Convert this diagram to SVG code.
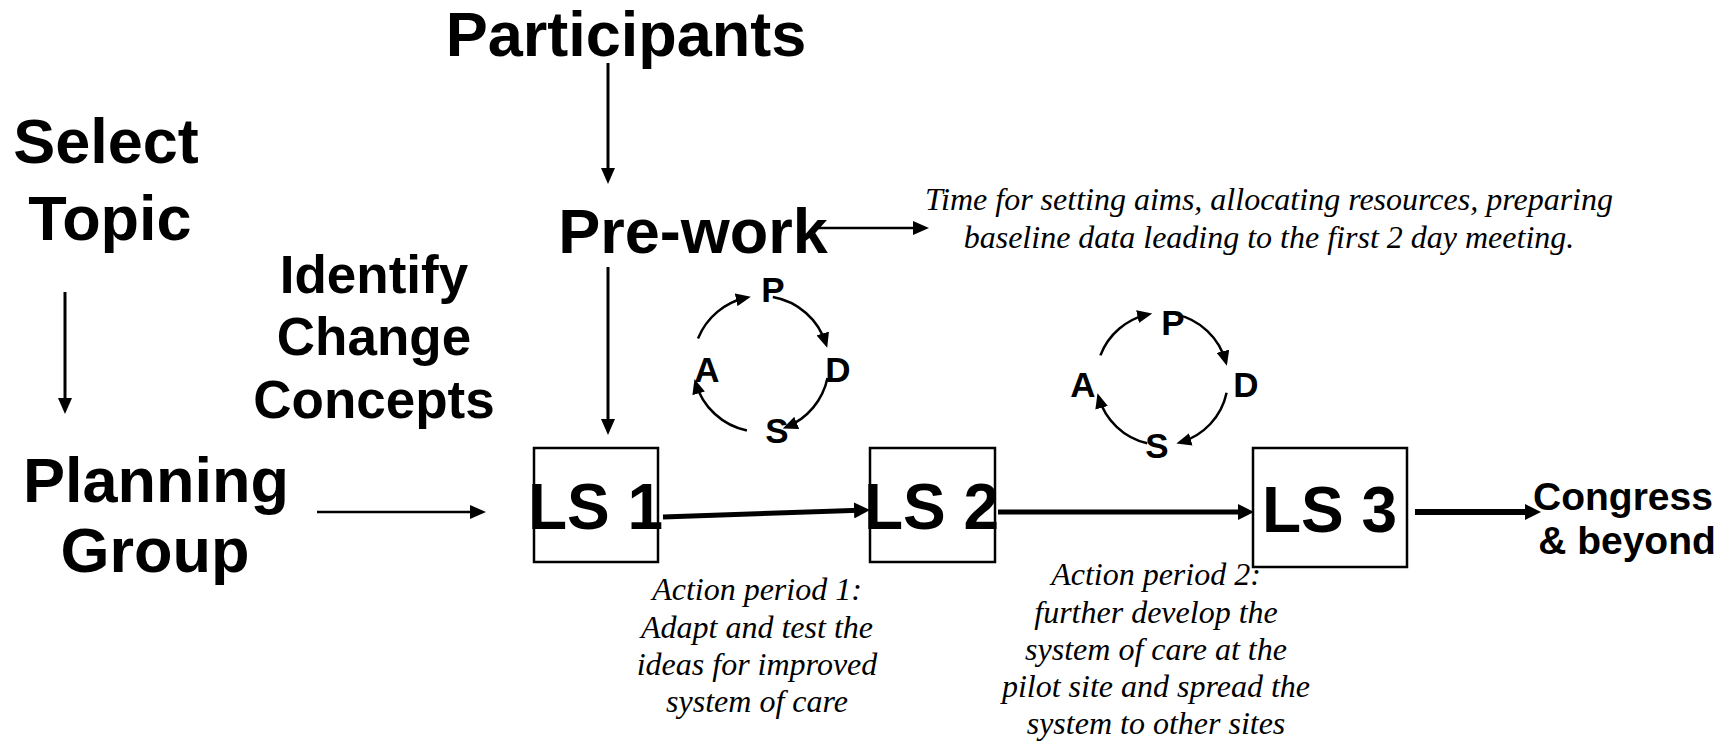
<svg xmlns="http://www.w3.org/2000/svg" width="1733" height="743" viewBox="0 0 1733 743">
<style>
.b{font-family:"Liberation Sans",Arial,sans-serif;font-weight:bold;fill:#000}
.big{font-size:63px}
.mid{font-size:53px}
.ls{font-size:64px}
.cg{font-size:39px}
.pd{font-size:35px;text-anchor:middle}
.it{font-family:"Liberation Serif","Times New Roman",serif;font-style:italic;font-size:32px;fill:#000;text-anchor:middle}
.c{text-anchor:middle}
.box{fill:none;stroke:#000;stroke-width:2.5}
.ln{fill:none;stroke:#000}
</style>
<defs>
<marker id="ah" markerUnits="userSpaceOnUse" markerWidth="16" markerHeight="14" refX="5" refY="7" orient="auto"><path d="M0,0 L16,7 L0,14 z" fill="#000"/></marker>
<marker id="ahb" markerUnits="userSpaceOnUse" markerWidth="16" markerHeight="16" refX="5" refY="8" orient="auto"><path d="M0,0 L16,8 L0,16 z" fill="#000"/></marker>
<marker id="ahp" markerUnits="userSpaceOnUse" markerWidth="15" markerHeight="13" refX="11" refY="6.5" orient="auto"><path d="M0,0 L15,6.5 L0,13 z" fill="#000"/></marker>
</defs>
<rect width="1733" height="743" fill="#fff"/>

<g id="participants"><text class="b big c" x="626" y="56">Participants</text></g>
<g id="select-topic"><text class="b big c" x="106" y="163">Select</text><text class="b big c" x="110" y="240">Topic</text></g>
<g id="planning-group"><text class="b big c" x="156" y="502">Planning</text><text class="b big c" x="155" y="572">Group</text></g>
<g id="identify"><text class="b mid c" x="374" y="293">Identify</text><text class="b mid c" x="374" y="355">Change</text><text class="b mid c" x="374" y="418">Concepts</text></g>
<g id="prework"><text class="b big c" x="693" y="253">Pre-work</text></g>
<g id="prework-note"><text class="it" x="1269" y="210">Time for setting aims, allocating resources, preparing</text><text class="it" x="1269" y="248">baseline data leading to the first 2 day meeting.</text></g>

<g id="ls1"><rect class="box" x="534" y="448" width="124" height="114"/><text class="b ls" x="528" y="529">LS 1</text></g>
<g id="ls2"><rect class="box" x="870" y="448" width="125" height="114"/><text class="b ls" x="864" y="529">LS 2</text></g>
<g id="ls3"><rect class="box" x="1253" y="448" width="154" height="119"/><text class="b ls" x="1262" y="532">LS 3</text></g>
<g id="congress"><text class="b cg c" x="1623" y="510">Congress</text><text class="b cg c" x="1627" y="554">&amp; beyond</text></g>

<g id="action1"><text class="it" x="757" y="600">Action period 1:</text><text class="it" x="757" y="638">Adapt and test the</text><text class="it" x="757" y="675">ideas for improved</text><text class="it" x="757" y="712">system of care</text></g>
<g id="action2"><text class="it" x="1156" y="585">Action period 2:</text><text class="it" x="1156" y="623">further develop the</text><text class="it" x="1156" y="660">system of care at the</text><text class="it" x="1156" y="697">pilot site and spread the</text><text class="it" x="1156" y="734">system to other sites</text></g>

<g id="pdsa1">
<text class="b pd" x="773" y="302">P</text><text class="b pd" x="838" y="382">D</text><text class="b pd" x="777" y="443">S</text><text class="b pd" x="707" y="382">A</text>
</g>
<g id="pdsa2">
<text class="b pd" x="1173" y="335">P</text><text class="b pd" x="1246" y="397">D</text><text class="b pd" x="1157" y="458">S</text><text class="b pd" x="1083" y="397">A</text>
</g>

<g id="connectors">
<line class="ln" stroke-width="3" x1="608" y1="63" x2="608" y2="173" marker-end="url(#ah)"/>
<line class="ln" stroke-width="3" x1="608" y1="267" x2="608" y2="424" marker-end="url(#ah)"/>
<line class="ln" stroke-width="2.5" x1="813" y1="228" x2="918" y2="228" marker-end="url(#ah)"/>
<line class="ln" stroke-width="3" x1="65" y1="292" x2="65" y2="403" marker-end="url(#ah)"/>
<line class="ln" stroke-width="2.5" x1="317" y1="512" x2="475" y2="512" marker-end="url(#ah)"/>
<line class="ln" stroke-width="5" x1="663" y1="517" x2="859" y2="510.3" marker-end="url(#ahb)"/>
<line class="ln" stroke-width="5" x1="998" y1="512" x2="1243" y2="512" marker-end="url(#ahb)"/>
<line class="ln" stroke-width="6" x1="1415" y1="512" x2="1530" y2="512" marker-end="url(#ahb)"/>
<path class="ln" stroke-width="2.5" d="M698,338.5 A68,68 0 0 1 746.9,297.5" marker-end="url(#ahp)"/>
<path class="ln" stroke-width="2.5" d="M772.8,297 A68,68 0 0 1 826,344" marker-end="url(#ahp)"/>
<path class="ln" stroke-width="2.5" d="M827.5,378 A68,68 0 0 1 786.5,427" marker-end="url(#ahp)"/>
<path class="ln" stroke-width="2.5" d="M746.9,430.5 A68,68 0 0 1 695.6,382.8" marker-end="url(#ahp)"/>
<path class="ln" stroke-width="2.5" d="M1100.4,355.4 A66,66 0 0 1 1148.3,314.4" marker-end="url(#ahp)"/>
<path class="ln" stroke-width="2.5" d="M1175.7,314.4 A66,66 0 0 1 1225.8,361.9" marker-end="url(#ahp)"/>
<path class="ln" stroke-width="2.5" d="M1226.6,392.7 A66,66 0 0 1 1180.2,442.4" marker-end="url(#ahp)"/>
<path class="ln" stroke-width="2.5" d="M1147.2,443.3 A66,66 0 0 1 1098.6,397.2" marker-end="url(#ahp)"/>
</g>
</svg>
